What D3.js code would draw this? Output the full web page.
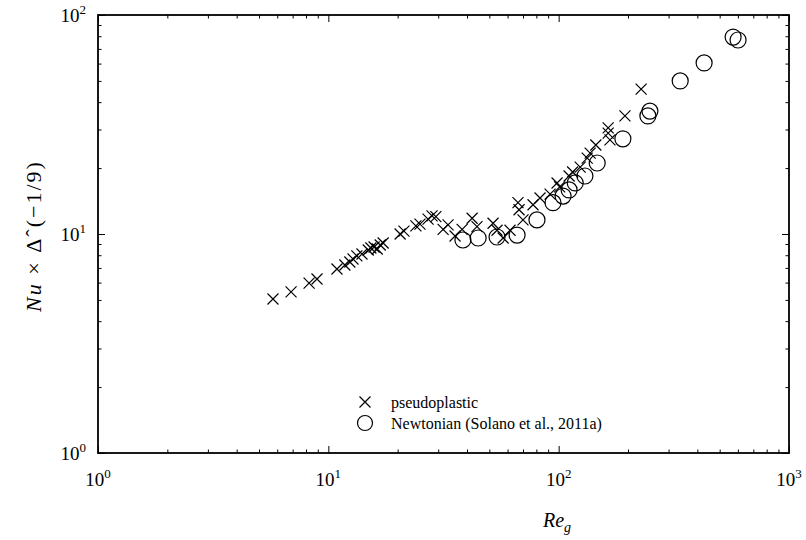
<!DOCTYPE html>
<html>
<head>
<meta charset="utf-8">
<script src="https://cdn.jsdelivr.net/npm/d3@7"></script>
<style>
  body { margin: 0; background: #fff; }
  svg { display: block; }
  text { font-family: "Liberation Serif", "Times New Roman", "DejaVu Serif", serif; fill: #000; }
</style>
</head>
<body>
<svg id="chart" width="806" height="540"></svg>
<script>
// ---- data ----
const pseudoRe = [5.75, 6.89, 8.25, 8.93, 10.9, 11.8, 12.4, 12.8, 13.3, 14.0, 14.9, 15.3, 15.8, 16.3, 16.8, 17.3,
  20.5, 21.3, 24.0, 25.0, 27.1, 28.2, 29.3, 31.5, 33.1, 35.5, 38.1, 42.1, 44.2, 51.9, 54.0, 57.4, 61.5,
  66.6, 67.3, 70.0, 77.4, 83.0, 91.8, 98.4, 101, 111, 115, 124, 133, 137, 145, 164, 164, 167, 194, 228];
const pseudoNu = [5.05, 5.44, 5.97, 6.23, 6.92, 7.22, 7.45, 7.69, 7.94, 8.10, 8.45, 8.63, 8.72, 8.54, 8.91, 9.10,
  10.0, 10.3, 10.9, 11.1, 11.7, 12.1, 12.0, 10.5, 11.0, 9.79, 10.5, 11.8, 10.8, 11.2, 10.4, 9.59, 10.4,
  13.9, 12.9, 11.6, 13.6, 14.6, 15.2, 17.1, 16.4, 18.4, 19.2, 20.2, 22.2, 23.4, 25.5, 30.5, 28.9, 26.9, 34.6, 45.9];
const newtRe = [38.4, 44.7, 54.0, 66.0, 80.5, 94.5, 104.5, 111, 118, 130, 147, 190, 244, 249, 337, 428, 572, 601];
const newtNu = [9.39, 9.59, 9.69, 9.89, 11.6, 13.9, 14.9, 15.9, 17.1, 18.4, 21.1, 27.2, 34.6, 36.4, 50.0, 60.4, 79.3, 76.9];
const xMajor = [1, 10, 100, 1000];
const yMajor = [1, 10, 100];
const xTickExp = ["0", "1", "2", "3"];
const yTickExp = ["0", "1", "2"];
const legendLabels = ["pseudoplastic", "Newtonian (Solano et al., 2011a)"];

// ---- layout ----
const pL = 98, pR = 789, pT = 15, pB = 453;
const svg = d3.select("#chart");
const x = d3.scaleLog().domain([1, 1000]).range([pL, pR]);
const y = d3.scaleLog().domain([1, 100]).range([pB, pT]);

function minors(majors) {
  const out = [];
  for (let i = 0; i < majors.length - 1; i++)
    for (let k = 2; k <= 9; k++) out.push(majors[i] * k);
  return out;
}
const xMinor = minors(xMajor);
const yMinor = minors(yMajor);

function addAxis(gen, tx, ty) {
  const g = svg.append("g").attr("transform", `translate(${tx},${ty})`).call(gen);
  g.select(".domain").remove();
  g.selectAll("line").attr("stroke", "#000").attr("stroke-width", 1);
  g.selectAll("text").remove();
  return g;
}
// inward ticks on all four sides
addAxis(d3.axisBottom(x).tickValues(xMajor).tickSize(-7), 0, pB);
addAxis(d3.axisBottom(x).tickValues(xMinor).tickSize(-3.5), 0, pB);
addAxis(d3.axisTop(x).tickValues(xMajor).tickSize(-7), 0, pT);
addAxis(d3.axisTop(x).tickValues(xMinor).tickSize(-3.5), 0, pT);
addAxis(d3.axisLeft(y).tickValues(yMajor).tickSize(-7), pL, 0);
addAxis(d3.axisLeft(y).tickValues(yMinor).tickSize(-3.5), pL, 0);
addAxis(d3.axisRight(y).tickValues(yMajor).tickSize(-7), pR, 0);
addAxis(d3.axisRight(y).tickValues(yMinor).tickSize(-3.5), pR, 0);

// frame
svg.append("rect").attr("x", pL).attr("y", pT).attr("width", pR - pL).attr("height", pB - pT)
  .attr("fill", "none").attr("stroke", "#000").attr("stroke-width", 1.8);

// tick labels
xMajor.forEach((v, i) => {
  const t = svg.append("text").attr("x", x(v)).attr("y", pB + 33).attr("text-anchor", "middle")
    .style("font-size", "19px");
  t.append("tspan").text("10");
  t.append("tspan").attr("dy", -8).style("font-size", "13px").text(xTickExp[i]);
});
yMajor.forEach((v, i) => {
  const t = svg.append("text").attr("x", pL - 12).attr("y", y(v) + 7).attr("text-anchor", "end")
    .style("font-size", "19px");
  t.append("tspan").text("10");
  t.append("tspan").attr("dy", -8).style("font-size", "13px").text(yTickExp[i]);
});

// axis titles
const xt = svg.append("text").attr("x", 557).attr("y", 527).attr("text-anchor", "middle")
  .style("font-size", "20px").style("font-style", "italic");
xt.append("tspan").text("Re");
xt.append("tspan").attr("dy", 5).style("font-size", "14px").text("g");

const yt = svg.append("text").attr("transform", "translate(41,236) rotate(-90)")
  .attr("text-anchor", "middle").style("font-size", "22px").style("letter-spacing", "2px");
yt.append("tspan").style("font-style", "italic").text("Nu");
yt.append("tspan").text("\u00A0×\u00A0Δ\u02C6(−1/9)");

// marks
function cross(g, cx, cy, s) {
  g.append("path").attr("d", `M${cx - s},${cy - s}L${cx + s},${cy + s}M${cx - s},${cy + s}L${cx + s},${cy - s}`)
    .attr("stroke", "#000").attr("stroke-width", 1.2).attr("fill", "none");
}
const marks = svg.append("g");
newtRe.forEach((v, i) => {
  marks.append("circle").attr("cx", x(v)).attr("cy", y(newtNu[i])).attr("r", 8)
    .attr("fill", "none").attr("stroke", "#000").attr("stroke-width", 1.2);
});
pseudoRe.forEach((v, i) => cross(marks, x(v), y(pseudoNu[i]), 5.5));

// legend
const lg = svg.append("g");
cross(lg, 365, 402, 5.5);
lg.append("circle").attr("cx", 365).attr("cy", 423).attr("r", 7.5)
  .attr("fill", "none").attr("stroke", "#000").attr("stroke-width", 1.2);
lg.append("text").attr("x", 391).attr("y", 408).style("font-size", "16px").text(legendLabels[0]);
lg.append("text").attr("x", 391).attr("y", 429).style("font-size", "16px").text(legendLabels[1]);
</script>
</body>
</html>
